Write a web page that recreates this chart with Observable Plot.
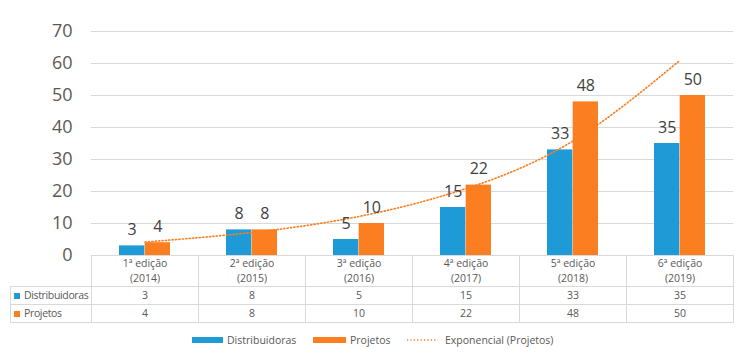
<!DOCTYPE html>
<html>
<head>
<meta charset="utf-8">
<script src="https://cdn.jsdelivr.net/npm/d3@7"></script>
<script src="https://cdn.jsdelivr.net/npm/@observablehq/plot@0.6"></script>
<style>
  body { margin: 0; background: #fff; font-family: "Open Sans", sans-serif; }
  #wrap { position: relative; width: 750px; height: 364px; overflow: hidden; }
  #wrap > svg { position: absolute; left: 0; top: 0; }
  #tbl { position: absolute; left: 10px; top: 255px; width: 723px; border-collapse: collapse; table-layout: fixed;
         font-size: 10.5px; color: #595959; }
  #tbl td { padding: 0; border: 1px solid #d9d9d9; text-align: center; line-height: 15px; overflow: visible; }
  #tbl tr.h td { height: 31px; border-top: none; }
  #tbl tr.h td.blank { border-left: none; }
  #tbl tr.r td { height: 17px; }
  #tbl td.lab { text-align: left; padding-left: 3px; white-space: nowrap; letter-spacing: -0.35px; }
  .sw { display: inline-block; width: 6px; height: 6px; margin-right: 4px; vertical-align: 0px; }
  .lg { position: absolute; font-size: 10.5px; color: #595959; line-height: 18px; top: 331px; white-space: nowrap; }
  .lgsw { position: absolute; top: 337px; height: 6px; }
</style>
</head>
<body>
<div id="wrap"></div>
<script>
// ---- data ----
const editions = ["1ª edição", "2ª edição", "3ª edição", "4ª edição", "5ª edição", "6ª edição"];
const years = ["(2014)", "(2015)", "(2016)", "(2017)", "(2018)", "(2019)"];
const distribuidoras = [3, 8, 5, 15, 33, 35];
const projetos = [4, 8, 10, 22, 48, 50];
const trendProjetos = [4.2, 7.2, 12.2, 20.9, 35.8, 61.0]; // dotted "Exponencial (Projetos)" curve
const yTicks = [0, 10, 20, 30, 40, 50, 60, 70];
const seriesNames = ["Distribuidoras", "Projetos"];
const trendName = "Exponencial (Projetos)";
const colors = ["#1E9BD7", "#FB7E21"];

const cats = editions.map((e, i) => e + " " + years[i]);
const data = cats.map((c, i) => ({cat: c, d: distribuidoras[i], p: projetos[i], t: trendProjetos[i]}));

const half = 107 * 0.48 / 2;

const chart = Plot.plot({
  width: 750,
  height: 364,
  marginLeft: 91,
  marginRight: 17,
  marginTop: 31,
  marginBottom: 109,
  style: {fontFamily: "Open Sans, sans-serif", fontSize: "18px", color: "#595959", background: "transparent"},
  x: {domain: cats, paddingInner: 0.52, paddingOuter: 0.26, axis: null},
  y: {domain: [0, 70], ticks: yTicks, tickSize: 0, tickPadding: 19, label: null},
  marks: [
    Plot.ruleY(yTicks, {stroke: "#d9d9d9", strokeWidth: 1}),
    Plot.barY(data, {x: "cat", y: "d", fill: colors[0], insetRight: half}),
    Plot.barY(data, {x: "cat", y: "p", fill: colors[1], insetLeft: half}),
    Plot.line(data, {x: "cat", y: "t", stroke: colors[1], strokeWidth: 1.6, strokeDasharray: "1.2,2.2", curve: "natural"}),
    Plot.text(data, {x: "cat", y: "d", text: d => String(d.d), dx: -half / 2, dy: -16, fontSize: 16, fill: "#404040"}),
    Plot.text(data, {x: "cat", y: "p", text: d => String(d.p), dx: half / 2, dy: -16, fontSize: 16, fill: "#404040"})
  ]
});
const wrap = document.getElementById("wrap");
wrap.appendChild(chart);

// ---- data table under the chart ----
const tbl = document.createElement("table");
tbl.id = "tbl";
const cg = document.createElement("colgroup");
[81, 107, 107, 107, 107, 107, 107].forEach(w => { const c = document.createElement("col"); c.style.width = w + "px"; cg.appendChild(c); });
tbl.appendChild(cg);
const h = document.createElement("tr"); h.className = "h";
const b = document.createElement("td"); b.className = "blank"; h.appendChild(b);
editions.forEach((e, i) => { const td = document.createElement("td"); td.innerHTML = e + "<br>" + years[i]; h.appendChild(td); });
tbl.appendChild(h);
[distribuidoras, projetos].forEach((arr, s) => {
  const tr = document.createElement("tr"); tr.className = "r";
  const lab = document.createElement("td"); lab.className = "lab";
  lab.innerHTML = `<span class="sw" style="background:${colors[s]}"></span>${seriesNames[s]}`;
  tr.appendChild(lab);
  arr.forEach(v => { const td = document.createElement("td"); td.textContent = v; tr.appendChild(td); });
  tbl.appendChild(tr);
});
wrap.appendChild(tbl);

// ---- legend ----
function add(html) { wrap.insertAdjacentHTML("beforeend", html); }
add(`<div class="lgsw" style="left:192px;width:31px;background:${colors[0]}"></div>`);
add(`<div class="lg" style="left:227px">${seriesNames[0]}</div>`);
add(`<div class="lgsw" style="left:313px;width:33px;background:${colors[1]}"></div>`);
add(`<div class="lg" style="left:350px">${seriesNames[1]}</div>`);
add(`<svg style="position:absolute;left:407px;top:336px" width="32" height="8"><line x1="0" x2="31" y1="4" y2="4" stroke="${colors[1]}" stroke-width="1.6" stroke-dasharray="1.2,2.2"/></svg>`);
add(`<div class="lg" style="left:445px">${trendName}</div>`);
</script>
</body>
</html>
